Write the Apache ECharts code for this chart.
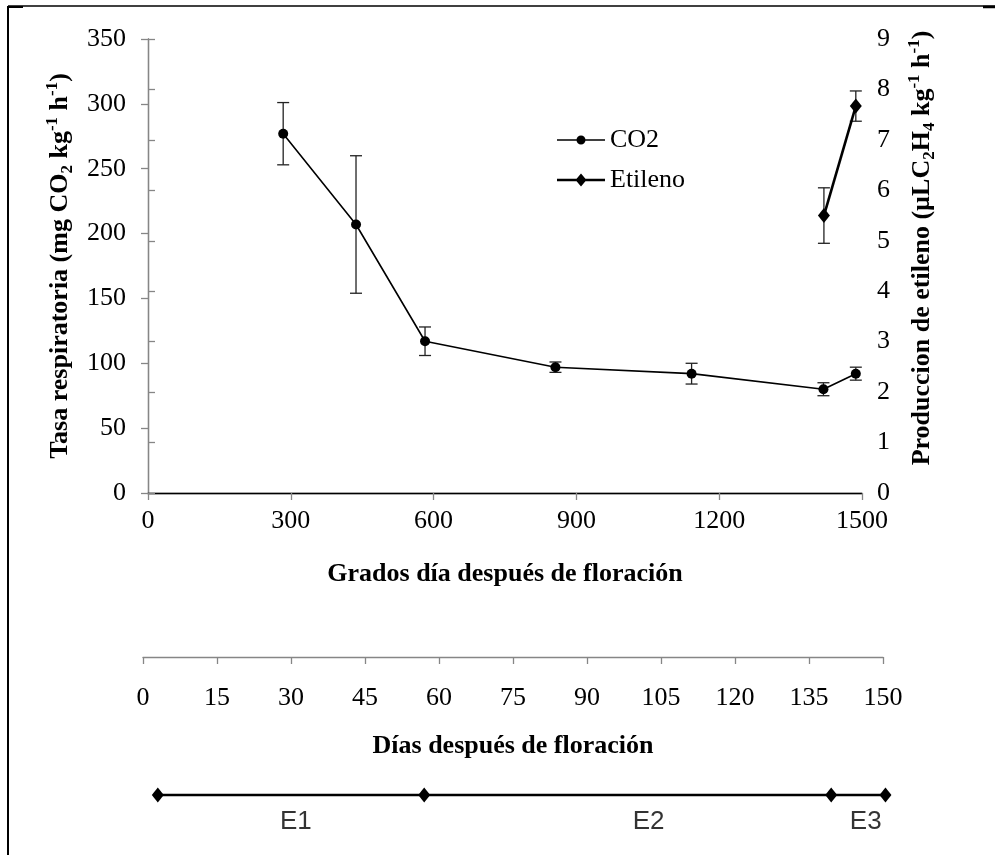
<!DOCTYPE html>
<html>
<head>
<meta charset="utf-8">
<script src="https://cdn.jsdelivr.net/npm/echarts@6/dist/echarts.min.js"></script>
<style>html,body{margin:0;padding:0;background:#fff}#c{width:995px;height:855px}</style>
</head>
<body>
<div id="c"></div>
<script>
// ---- data ----
const grados   = [284, 437, 582, 856, 1142, 1419, 1487];
const co2      = [277, 207, 117, 97, 92, 80, 92];
const co2Err   = [24, 53, 11, 4, 8, 5, 5];
const ethGrados = [1420, 1487];
const etileno   = [5.5, 7.67];
const ethErr    = [0.55, 0.3];
const stageDays = [3, 57, 139.5, 150.5];
const stageNames = ['E1', 'E2', 'E3'];
const stageLabelDays = [31, 102.5, 146.5];

const SERIF = '"Liberation Serif","Times New Roman",serif';
const SANS = '"Liberation Sans",Arial,sans-serif';
const AXIS_GRAY = '#868686';
const FS = 26;

const co2Pts = grados.map((g, i) => [g, co2[i]]);
const co2ErrPts = grados.map((g, i) => [g, co2[i] - co2Err[i], co2[i] + co2Err[i]]);
const ethPts = ethGrados.map((g, i) => [g, etileno[i]]);
const ethErrPts = ethGrados.map((g, i) => [g, etileno[i] - ethErr[i], etileno[i] + ethErr[i]]);
const stagePts = stageDays.map(d => [d, 0]);
const stageLabelPts = stageLabelDays.map((d, i) => ({ value: [d, 0], name: stageNames[i] }));

function errRender(params, api) {
  const x = api.value(0);
  const lo = api.coord([x, api.value(1)]);
  const hi = api.coord([x, api.value(2)]);
  const w = 6;
  const st = { stroke: '#222', lineWidth: 1.3 };
  return {
    type: 'group',
    children: [
      { type: 'line', shape: { x1: lo[0], y1: lo[1], x2: hi[0], y2: hi[1] }, style: st },
      { type: 'line', shape: { x1: lo[0] - w, y1: lo[1], x2: lo[0] + w, y2: lo[1] }, style: st },
      { type: 'line', shape: { x1: hi[0] - w, y1: hi[1], x2: hi[0] + w, y2: hi[1] }, style: st }
    ]
  };
}

const richName = {
  b: { fontFamily: SERIF, fontWeight: 'bold', fontSize: FS, lineHeight: 32, color: '#000' },
  sub: { fontFamily: SERIF, fontWeight: 'bold', fontSize: 17, verticalAlign: 'bottom', lineHeight: 32, color: '#000' },
  sup: { fontFamily: SERIF, fontWeight: 'bold', fontSize: 17, verticalAlign: 'top', lineHeight: 32, color: '#000' }
};
const plain = v => String(v);

// legend icons: line with marker (48 x 16 box)
const iconCO2 = 'path://M0,7.2 L48,7.2 L48,8.8 L0,8.8 Z M19.5,8 A4.5,4.5 0 1,1 28.5,8 A4.5,4.5 0 1,1 19.5,8 Z';
const iconEth = 'path://M0,6.8 L48,6.8 L48,9.2 L0,9.2 Z M24,1.5 L29.5,8 L24,14.5 L18.5,8 Z';

const chart = echarts.init(document.getElementById('c'), null, { renderer: 'canvas' });
chart.setOption({
  animation: false,
  backgroundColor: '#fff',
  textStyle: { fontFamily: SERIF },
  grid: [
    { left: 148, right: 133, top: 39, height: 454 },
    { left: 143, width: 740, top: 600, height: 57 },
    { left: 143, width: 740, top: 780, height: 15 }
  ],
  legend: {
    orient: 'vertical',
    left: 552, top: 122,
    itemWidth: 48, itemHeight: 16, itemGap: 14,
    textStyle: { fontFamily: SERIF, fontSize: FS, color: '#000' },
    data: [
      { name: 'CO2', icon: iconCO2 },
      { name: 'Etileno', icon: iconEth }
    ]
  },
  xAxis: [
    {
      gridIndex: 0, type: 'value', min: 0, max: 1500, interval: 300,
      position: 'bottom',
      axisLine: { lineStyle: { color: AXIS_GRAY, width: 1.3 } },
      axisTick: { length: 7, lineStyle: { color: AXIS_GRAY, width: 1.3 } },
      axisLabel: { fontFamily: SERIF, fontSize: FS, color: '#000', margin: 15, formatter: plain },
      splitLine: { show: false },
      name: 'Grados día después de floración', nameLocation: 'middle', nameGap: 68,
      nameTextStyle: { fontFamily: SERIF, fontWeight: 'bold', fontSize: FS, color: '#000' }
    },
    {
      gridIndex: 0, type: 'value', min: 0, max: 1500, position: 'top',
      axisLine: { show: true, lineStyle: { color: '#000', width: 1.3 } },
      axisTick: { show: false }, axisLabel: { show: false }, splitLine: { show: false }
    },
    {
      gridIndex: 1, type: 'value', min: 0, max: 150, interval: 15, position: 'bottom',
      axisLine: { lineStyle: { color: AXIS_GRAY, width: 1.3 } },
      axisTick: { length: 7, lineStyle: { color: AXIS_GRAY, width: 1.3 } },
      axisLabel: { fontFamily: SERIF, fontSize: FS, color: '#000', margin: 28, formatter: plain },
      splitLine: { show: false },
      name: 'Días después de floración', nameLocation: 'middle', nameGap: 76,
      nameTextStyle: { fontFamily: SERIF, fontWeight: 'bold', fontSize: FS, color: '#000' }
    },
    {
      gridIndex: 2, type: 'value', min: 0, max: 150, show: false
    }
  ],
  yAxis: [
    {
      gridIndex: 0, type: 'value', min: 0, max: 350, interval: 50,
      axisLine: { show: true, lineStyle: { color: AXIS_GRAY, width: 1.3 } },
      axisTick: { show: true, length: 7, lineStyle: { color: AXIS_GRAY, width: 1.3 } },
      axisLabel: { fontFamily: SERIF, fontSize: FS, color: '#000', margin: 22, formatter: plain },
      splitLine: { show: false },
      name: '{b|Tasa respiratoria (mg CO}{sub|2}{b| kg}{sup|-1}{b| h}{sup|-1}{b|)}',
      nameLocation: 'middle', nameGap: 70, nameRotate: 90,
      nameTextStyle: { rich: richName }
    },
    {
      gridIndex: 0, type: 'value', min: 0, max: 9, interval: 1, position: 'right',
      axisLine: { show: true, lineStyle: { color: AXIS_GRAY, width: 1.3 } },
      axisTick: { show: true, length: 7, lineStyle: { color: AXIS_GRAY, width: 1.3 } },
      axisLabel: { fontFamily: SERIF, fontSize: FS, color: '#000', margin: 15, formatter: plain },
      splitLine: { show: false },
      name: '{b|Produccion de etileno (µLC}{sub|2}{b|H}{sub|4}{b| kg}{sup|-1}{b| h}{sup|-1}{b|)}',
      nameLocation: 'middle', nameGap: 44, nameRotate: 90,
      nameTextStyle: { rich: richName, padding: [0, 0, 0, 36] }
    },
    { gridIndex: 1, type: 'value', show: false, min: 0, max: 1 },
    { gridIndex: 2, type: 'value', show: false, min: 0, max: 1 }
  ],
  series: [
    {
      type: 'custom', xAxisIndex: 0, yAxisIndex: 0, renderItem: errRender,
      data: co2ErrPts, z: 3, silent: true
    },
    {
      type: 'custom', xAxisIndex: 0, yAxisIndex: 1, renderItem: errRender,
      data: ethErrPts, z: 3, silent: true
    },
    {
      name: 'CO2', type: 'line', xAxisIndex: 0, yAxisIndex: 0, data: co2Pts,
      symbol: 'circle', symbolSize: 10, showAllSymbol: true,
      lineStyle: { color: '#000', width: 1.6 }, itemStyle: { color: '#000' }, z: 4
    },
    {
      name: 'Etileno', type: 'line', xAxisIndex: 0, yAxisIndex: 1, data: ethPts,
      symbol: 'diamond', symbolSize: [12, 15],
      lineStyle: { color: '#000', width: 2.6 }, itemStyle: { color: '#000' }, z: 4
    },
    {
      type: 'line', xAxisIndex: 3, yAxisIndex: 3, data: stagePts, clip: false,
      symbol: 'diamond', symbolSize: [12, 15],
      lineStyle: { color: '#000', width: 2.5 }, itemStyle: { color: '#000' }, silent: true
    },
    {
      type: 'scatter', xAxisIndex: 3, yAxisIndex: 3, data: stageLabelPts, clip: false,
      symbolSize: 0, silent: true,
      label: {
        show: true, position: 'bottom', distance: 14, formatter: '{b}',
        fontFamily: SANS, fontSize: 26, color: '#000'
      }
    }
  ],
  graphic: [
    { type: 'line', shape: { x1: 8, y1: 6, x2: 995, y2: 6 }, style: { stroke: '#000', lineWidth: 1.5 } },
    { type: 'line', shape: { x1: 8, y1: 6, x2: 8, y2: 855 }, style: { stroke: '#000', lineWidth: 2 } },
    { type: 'line', shape: { x1: 8, y1: 7, x2: 23, y2: 7 }, style: { stroke: '#000', lineWidth: 2 } },
    { type: 'line', shape: { x1: 983, y1: 7, x2: 995, y2: 7 }, style: { stroke: '#000', lineWidth: 2.5 } }
  ]
});
</script>
</body>
</html>
